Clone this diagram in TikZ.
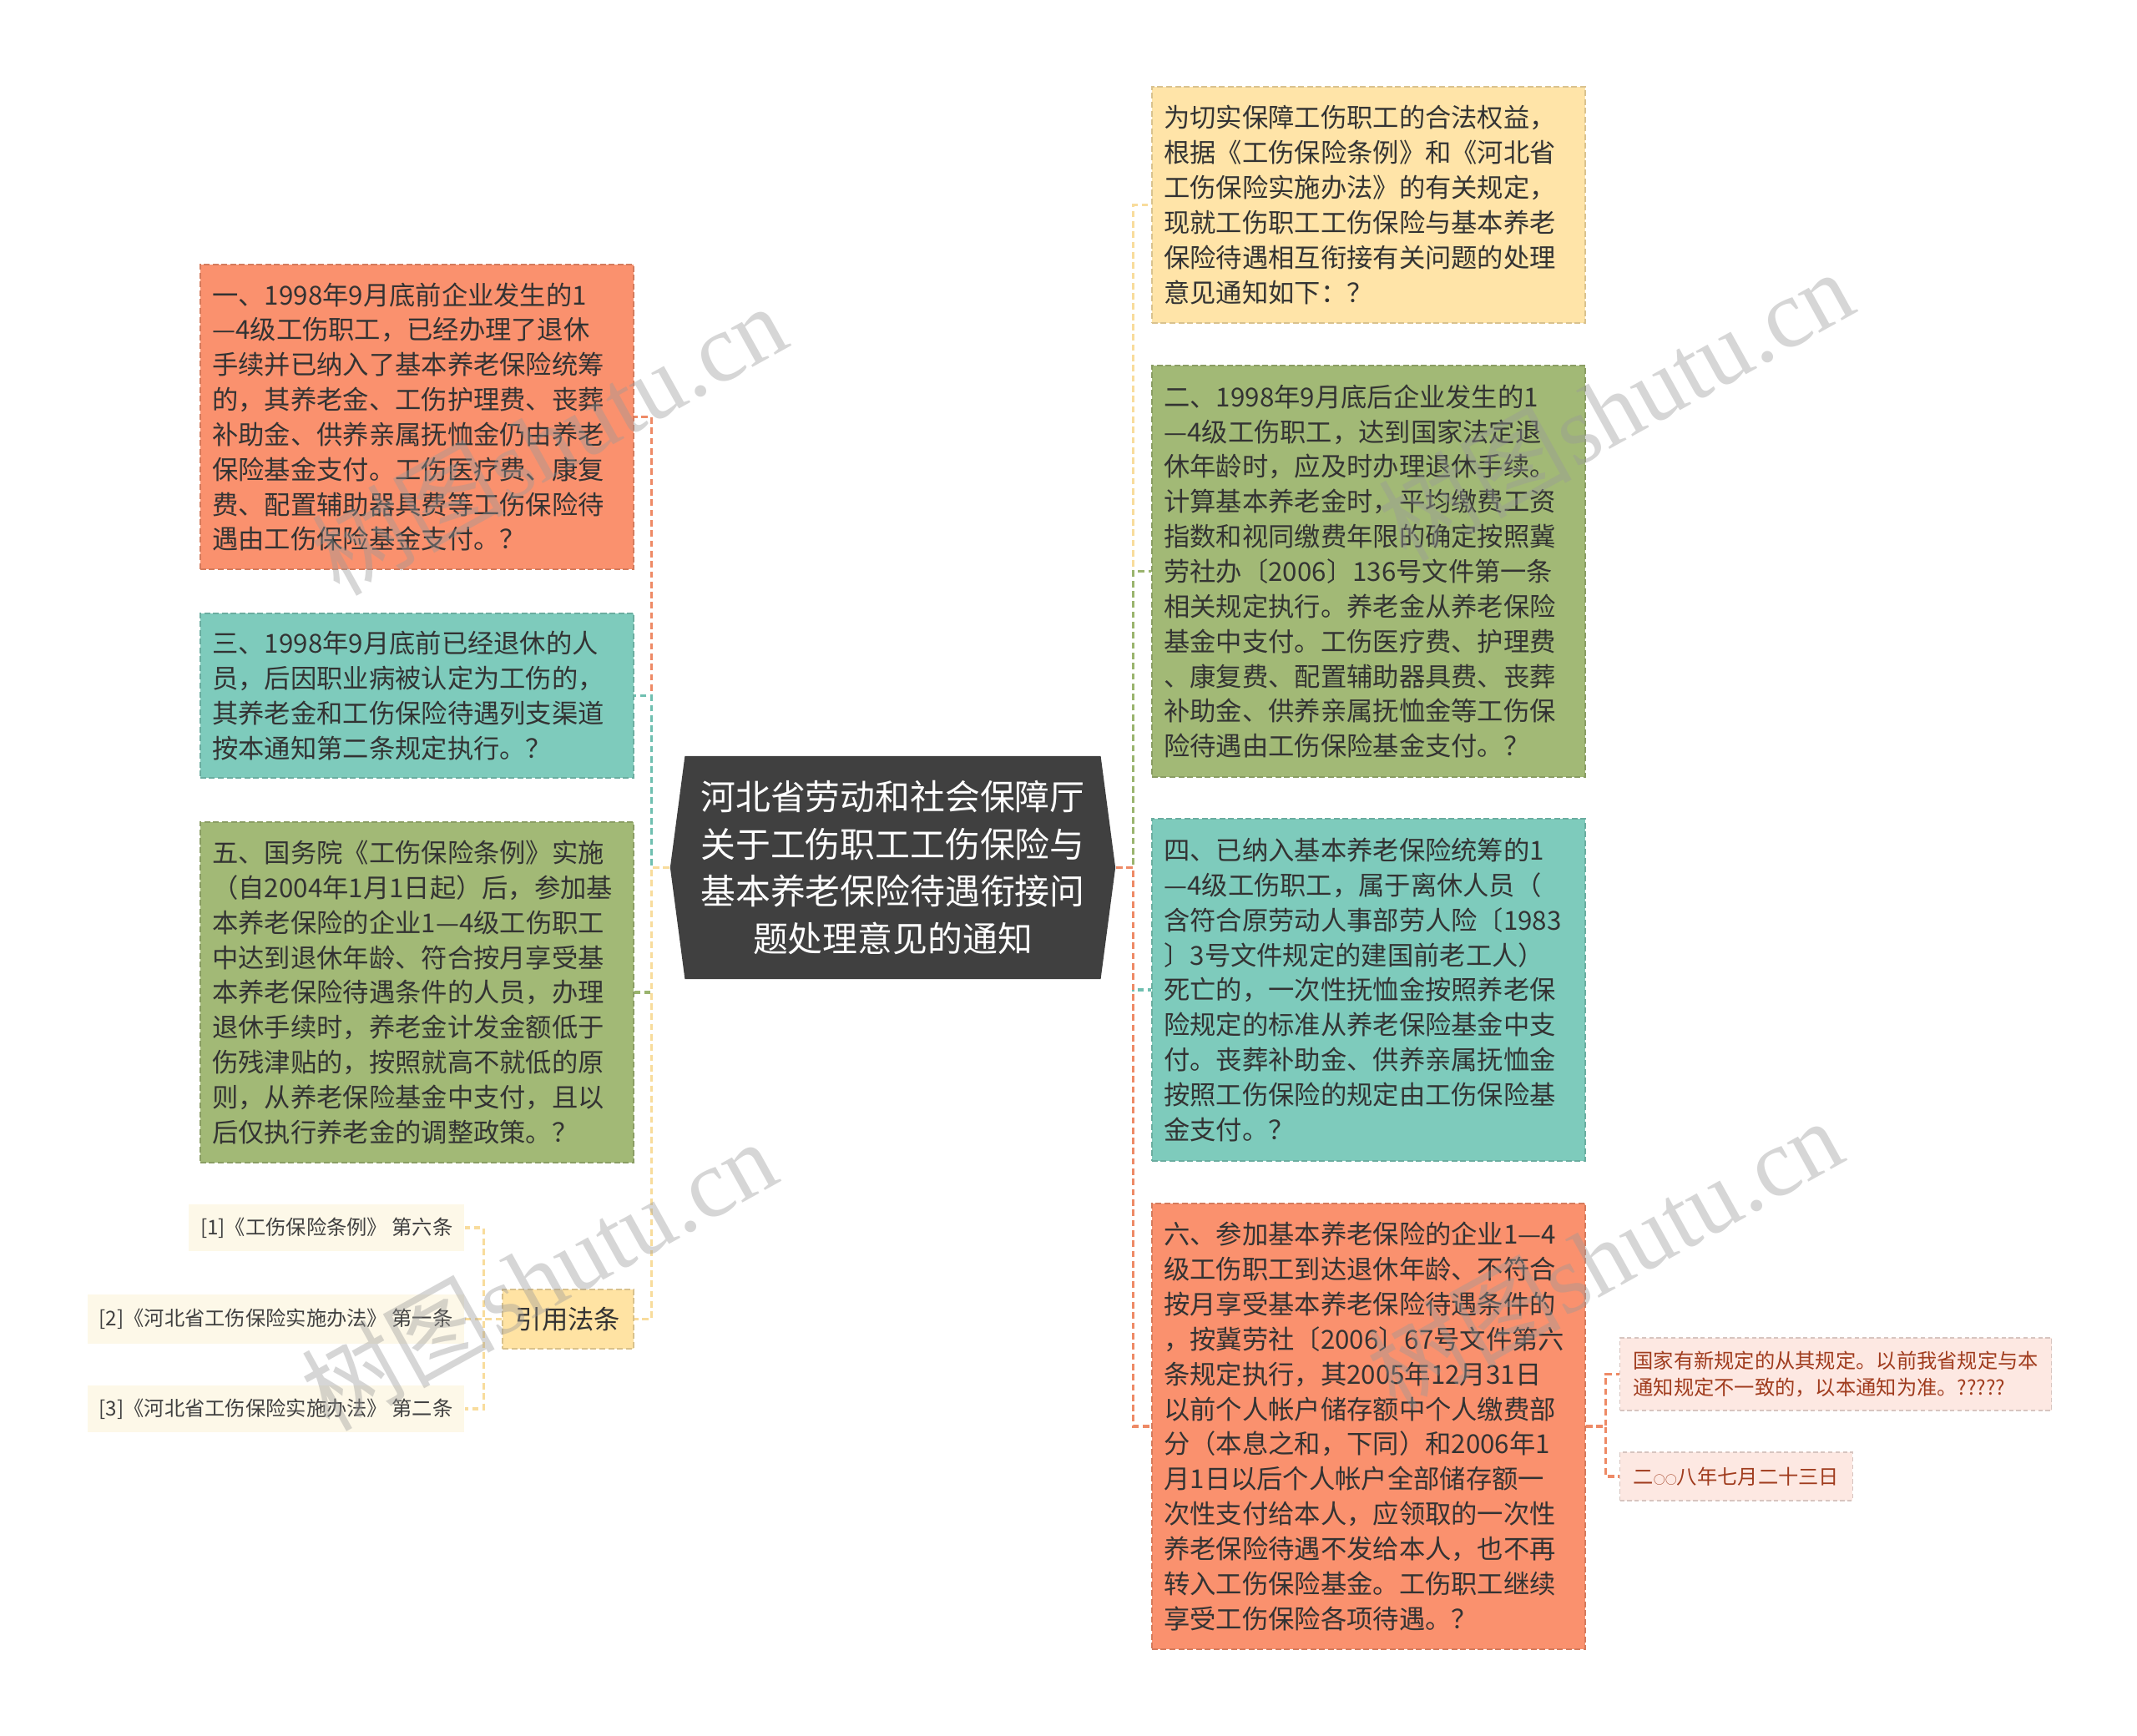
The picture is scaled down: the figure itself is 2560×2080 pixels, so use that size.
\documentclass[tikz,border=0pt]{standalone}
\usepackage{fontspec}
\newfontfamily\cjk{Noto Sans CJK SC}
\newfontfamily\wmfont{Liberation Serif}
\usetikzlibrary{shapes.symbols}
\pgfdeclarelayer{background}
\pgfdeclarelayer{foreground}
\pgfsetlayers{background,main,foreground}

\definecolor{rootgray}{HTML}{404040}
\definecolor{orangefill}{HTML}{FA916E}
\definecolor{tealfill}{HTML}{7ECBBC}
\definecolor{greenfill}{HTML}{A2B976}
\definecolor{beigefill}{HTML}{FFE4A8}
\definecolor{citefill}{HTML}{FFE3A3}
\definecolor{reffill}{HTML}{FDF8E8}
\definecolor{notefill}{HTML}{FDE8E2}
\definecolor{notetext}{HTML}{A03C1E}
\definecolor{orangeline}{HTML}{EE8A66}
\definecolor{tealline}{HTML}{6FBFB0}
\definecolor{greenline}{HTML}{9AB46E}
\definecolor{beigeline}{HTML}{F8DC9C}

\begin{document}
\begin{tikzpicture}[x=0.01cm,y=-0.01cm,
  topic/.style={rectangle,line width=.4pt,dash pattern=on 2pt off 1pt,
    font=\cjk\fontsize{8.9pt}{11.9pt}\selectfont,text=black!80,
    text width=4.9cm,align=left,inner xsep=0.145cm,inner ysep=0pt,
    minimum width=5.19cm},
  ref/.style={rectangle,fill=reffill,font=\cjk\fontsize{6.9pt}{9.3pt}\selectfont,
    text=black!75,inner xsep=0.14cm,inner ysep=0pt,anchor=east},
  note/.style={rectangle,fill=notefill,draw=notefill!85!black,line width=.3pt,
    dash pattern=on 1.5pt off 1pt,font=\cjk\fontsize{6.9pt}{9.3pt}\selectfont,
    text=notetext,align=left,inner xsep=0.16cm,inner ysep=0pt,anchor=west},
  conn/.style={line width=.9pt,dash pattern=on 2.2pt off 1.3pt}]

  \useasboundingbox (0,0) rectangle (2560,2080);

  % centre
  \node[signal,signal to=west and east,signal pointer angle=165,fill=rootgray,
    text=white,font=\cjk\fontsize{11.9pt}{16.1pt}\selectfont,text width=4.7cm,
    align=center,minimum width=5.33cm,minimum height=2.67cm,inner sep=0pt]
    (root) at (1069.5,1039.5) {河北省劳动和社会保障厅\\关于工伤职工工伤保险与\\基本养老保险待遇衔接问\\题处理意见的通知};

  % left side
  \node[topic,fill=orangefill,draw=orangefill!85!black,minimum height=3.65cm] (n1) at (499.5,499.5)
    {一、1998年9月底前企业发生的1\\—4级工伤职工，已经办理了退休\\手续并已纳入了基本养老保险统筹\\的，其养老金、工伤护理费、丧葬\\补助金、供养亲属抚恤金仍由养老\\保险基金支付。工伤医疗费、康复\\费、配置辅助器具费等工伤保险待\\遇由工伤保险基金支付。？};
  \node[topic,fill=tealfill,draw=tealfill!85!black,minimum height=1.97cm] (n3) at (499.5,833.5)
    {三、1998年9月底前已经退休的人\\员，后因职业病被认定为工伤的，\\其养老金和工伤保险待遇列支渠道\\按本通知第二条规定执行。？};
  \node[topic,fill=greenfill,draw=greenfill!85!black,minimum height=4.08cm] (n5) at (499.5,1189)
    {五、国务院《工伤保险条例》实施\\（自2004年1月1日起）后，参加基\\本养老保险的企业1—4级工伤职工\\中达到退休年龄、符合按月享受基\\本养老保险待遇条件的人员，办理\\退休手续时，养老金计发金额低于\\伤残津贴的，按照就高不就低的原\\则，从养老保险基金中支付，且以\\后仅执行养老金的调整政策。？};
  \node[rectangle,fill=citefill,draw=citefill!85!black,line width=.4pt,dash pattern=on 2pt off 1pt,
    font=\cjk\fontsize{8.9pt}{11.9pt}\selectfont,text=black!80,minimum width=1.57cm,
    minimum height=.71cm,inner sep=0pt] (cite) at (680.5,1580.5) {引用法条};
  \node[ref,minimum height=.56cm] (c1) at (557,1471) {[1]《工伤保险条例》 第六条};
  \node[ref,minimum height=.59cm] (c2) at (557,1580.5) {[2]《河北省工伤保险实施办法》 第一条};
  \node[ref,minimum height=.56cm] (c3) at (557,1688) {[3]《河北省工伤保险实施办法》 第二条};

  % right side
  \node[topic,fill=beigefill,draw=beigefill!85!black,minimum height=2.83cm] (r0) at (1639.5,245.5)
    {为切实保障工伤职工的合法权益，\\根据《工伤保险条例》和《河北省\\工伤保险实施办法》的有关规定，\\现就工伤职工工伤保险与基本养老\\保险待遇相互衔接有关问题的处理\\意见通知如下：？};
  \node[topic,fill=greenfill,draw=greenfill!85!black,minimum height=4.93cm] (r2) at (1639.5,684.5)
    {二、1998年9月底后企业发生的1\\—4级工伤职工，达到国家法定退\\休年龄时，应及时办理退休手续。\\计算基本养老金时，平均缴费工资\\指数和视同缴费年限的确定按照冀\\劳社办〔2006〕136号文件第一条\\相关规定执行。养老金从养老保险\\基金中支付。工伤医疗费、护理费\\、康复费、配置辅助器具费、丧葬\\补助金、供养亲属抚恤金等工伤保\\险待遇由工伤保险基金支付。？};
  \node[topic,fill=tealfill,draw=tealfill!85!black,minimum height=4.10cm] (r4) at (1639.5,1186)
    {四、已纳入基本养老保险统筹的1\\—4级工伤职工，属于离休人员（\\含符合原劳动人事部劳人险〔1983\\〕3号文件规定的建国前老工人）\\死亡的，一次性抚恤金按照养老保\\险规定的标准从养老保险基金中支\\付。丧葬补助金、供养亲属抚恤金\\按照工伤保险的规定由工伤保险基\\金支付。？};
  \node[topic,fill=orangefill,draw=orangefill!85!black,minimum height=5.34cm] (r6) at (1639.5,1709)
    {六、参加基本养老保险的企业1—4\\级工伤职工到达退休年龄、不符合\\按月享受基本养老保险待遇条件的\\，按冀劳社〔2006〕67号文件第六\\条规定执行，其2005年12月31日\\以前个人帐户储存额中个人缴费部\\分（本息之和，下同）和2006年1\\月1日以后个人帐户全部储存额一\\次性支付给本人，应领取的一次性\\养老保险待遇不发给本人，也不再\\转入工伤保险基金。工伤职工继续\\享受工伤保险各项待遇。？};
  \node[note,minimum height=.87cm] (s1) at (1940,1646.5)
    {国家有新规定的从其规定。以前我省规定与本\\通知规定不一致的，以本通知为准。?????};
  \node[note,minimum height=.58cm] (s2) at (1940,1769)
    {二{\fontsize{4pt}{4pt}\selectfont ○○}八年七月二十三日};

  \begin{pgfonlayer}{background}
    \fill[white] (0,0) rectangle (2560,2080);
    \draw[conn,orangeline] (root.west) -- ++(-22,0) |- (n1.east);
    \draw[conn,tealline] (root.west) -- ++(-22,0) |- (n3.east);
    \draw[conn,greenline] (root.west) -- ++(-22,0) |- (n5.east);
    \draw[conn,beigeline] (root.west) -- ++(-22,0) |- (cite.east);
    \draw[conn,beigeline] (cite.west) -- ++(-22,0) |- (c1.east);
    \draw[conn,beigeline] (cite.west) -- ++(-22,0) |- (c2.east);
    \draw[conn,beigeline] (cite.west) -- ++(-22,0) |- (c3.east);
    \draw[conn,beigeline] (root.east) -- ++(21,0) |- (r0.west);
    \draw[conn,greenline] (root.east) -- ++(21,0) |- (r2.west);
    \draw[conn,tealline] (root.east) -- ++(21,0) |- (r4.west);
    \draw[conn,orangeline] (root.east) -- ++(21,0) |- (r6.west);
    \draw[conn,orangeline] (r6.east) -- ++(24,0) |- (s1.west);
    \draw[conn,orangeline] (r6.east) -- ++(24,0) |- (s2.west);
  \end{pgfonlayer}

  % watermarks
  \begin{pgfonlayer}{foreground}
    \foreach \wx/\wy [count=\i] in {657/526,1935/485,645/1527,1922/1502}
      \node[rotate=29,text=black!40,opacity=.4,inner sep=0pt] (wm\i) at (\wx,\wy)
        {\fontsize{33pt}{33pt}\selectfont\cjk 树图\wmfont shutu.cn};
  \end{pgfonlayer}
\end{tikzpicture}
\end{document}
